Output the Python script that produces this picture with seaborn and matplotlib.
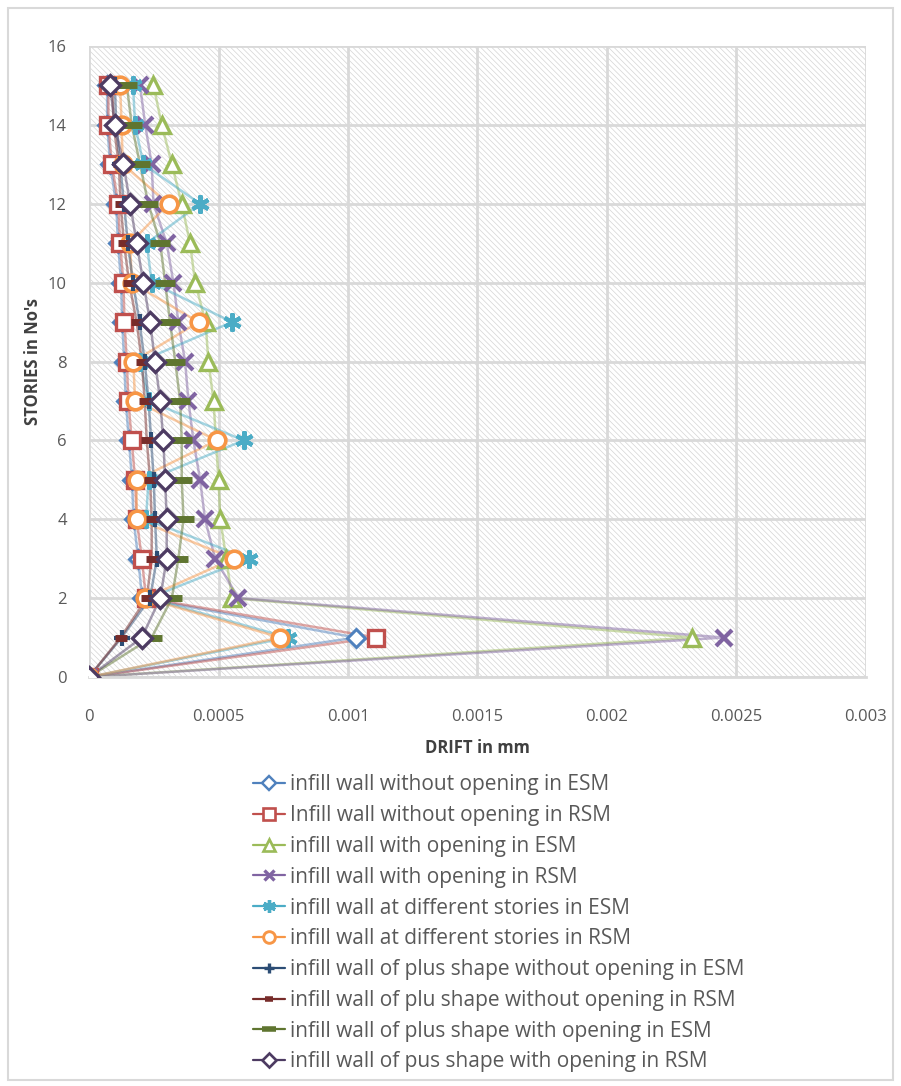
import numpy as np
import pandas as pd
import matplotlib
matplotlib.use("Agg")
import matplotlib.pyplot as plt
from matplotlib.patches import Rectangle
from matplotlib.lines import Line2D
from matplotlib.ticker import FuncFormatter, MultipleLocator
import seaborn as sns

# Storey numbers (ground = 0, roof = 15)
stories = list(range(0, 16))

# Drift values per storey, from storey 0 up to storey 15
wall_no_open_esm = [0, 0.00103, 0.000205, 0.00019, 0.000172, 0.000166, 0.000154, 0.000142, 0.000136, 0.000128, 0.000124, 0.000112, 0.000105, 0.000082, 0.00007, 0.00007]
wall_no_open_rsm = [0, 0.00111, 0.00022, 0.000204, 0.000184, 0.000178, 0.000165, 0.000152, 0.000146, 0.000137, 0.000133, 0.00012, 0.000113, 0.000088, 0.000075, 0.000075]
wall_open_esm = [0, 0.00233, 0.000552, 0.00053, 0.000507, 0.0005, 0.00049, 0.000481, 0.000461, 0.00045, 0.00041, 0.00039, 0.000358, 0.00032, 0.000281, 0.000249]
wall_open_rsm = [0, 0.00245, 0.000577, 0.000487, 0.000448, 0.000429, 0.000403, 0.000384, 0.000371, 0.000345, 0.000326, 0.0003, 0.000249, 0.000242, 0.000217, 0.000197]
diff_story_esm = [0, 0.000768, 0.00023, 0.000616, 0.00022, 0.00023, 0.000597, 0.00023, 0.000197, 0.000552, 0.000242, 0.000223, 0.000429, 0.00021, 0.000178, 0.00017]
diff_story_rsm = [0, 0.000739, 0.000217, 0.000558, 0.000184, 0.000184, 0.000494, 0.000178, 0.000171, 0.000423, 0.000165, 0.000159, 0.000307, 0.00013, 0.000126, 0.00012]
plus_no_open_esm = [0, 0.000126, 0.000236, 0.000262, 0.000255, 0.00025, 0.00024, 0.00023, 0.000215, 0.000195, 0.00017, 0.00015, 0.000135, 0.00012, 0.000105, 0.0001]
plus_no_open_rsm = [0, 0.000122, 0.000223, 0.000242, 0.000242, 0.000236, 0.000223, 0.000215, 0.000204, 0.000184, 0.000155, 0.000135, 0.000122, 0.000115, 0.000095, 0.00009]
plus_open_esm = [0, 0.000242, 0.00032, 0.000345, 0.000365, 0.000358, 0.000358, 0.000352, 0.000333, 0.000313, 0.000294, 0.000275, 0.000229, 0.000197, 0.000165, 0.000146]
plus_open_rsm = [0, 0.000204, 0.000275, 0.0003, 0.0003, 0.000294, 0.000287, 0.000275, 0.000255, 0.000236, 0.00021, 0.000184, 0.000159, 0.000133, 0.0001, 0.000081]

labels = [
    "infill wall without opening in ESM",
    "Infill wall without opening in RSM",
    "infill wall with opening in ESM",
    "infill wall with opening in RSM",
    "infill wall at different stories in ESM",
    "infill wall at different stories in RSM",
    "infill wall of plus shape without opening in ESM",
    "infill wall of plu shape without opening in RSM",
    "infill wall of plus shape with opening in ESM",
    "infill wall of pus shape with opening in RSM",
]
series = [wall_no_open_esm, wall_no_open_rsm, wall_open_esm, wall_open_rsm,
          diff_story_esm, diff_story_rsm, plus_no_open_esm, plus_no_open_rsm,
          plus_open_esm, plus_open_rsm]

colors = ["#4F81BD", "#C0504D", "#9BBB59", "#8064A2", "#4BACC6",
          "#F79646", "#2C4D75", "#772C2A", "#5F7530", "#4D3B62"]
# marker, size (pt), edge width, filled-with-white
styles = [
    ("D", 9.5, 2.2, True),
    ("s", 11.5, 2.4, True),
    ("^", 12, 2.4, True),
    ("x", 11, 3.0, False),
    ((6, 2, 0), 13, 3.0, False),
    ("o", 12, 2.6, True),
    ("+", 11, 3.0, False),
    ("_", 8, 5.0, False),
    ("_", 15, 5.0, False),
    ("D", 10, 2.4, True),
]

sns.set_theme(style="white")
plt.rcParams["font.family"] = ["Open Sans", "DejaVu Sans"]
plt.rcParams["hatch.linewidth"] = 0.5
plt.rcParams["hatch.color"] = "#d4d4d4"

fig = plt.figure(figsize=(9.01, 10.86), dpi=100)
ax = fig.add_axes([89 / 901, 1 - 677 / 1086, 777 / 901, 631 / 1086])
ax.set_facecolor("white")

# fine diagonal hatching behind the plot area
ax.add_patch(Rectangle((0, 0), 1, 1, transform=ax.transAxes, facecolor="white",
                       edgecolor="#d4d4d4", hatch="\\\\\\\\\\\\", linewidth=0, zorder=0.1))

frames = []
for lab, vals in zip(labels, series):
    frames.append(pd.DataFrame({"drift": vals, "story": stories, "series": lab}))
df = pd.concat(frames, ignore_index=True)

for i, lab in enumerate(labels):
    d = df[df["series"] == lab]
    sns.lineplot(data=d, x="drift", y="story", sort=False, estimator=None,
                 color=colors[i], linewidth=1.8, alpha=0.5, ax=ax, zorder=2 + i * 0.01)
for i, lab in enumerate(labels):
    d = df[df["series"] == lab]
    m, ms, mew, filled = styles[i]
    sns.lineplot(data=d, x="drift", y="story", sort=False, estimator=None,
                 color=colors[i], linestyle="", marker=m, markersize=ms,
                 markeredgewidth=mew, markeredgecolor=colors[i],
                 markerfacecolor="white" if filled else colors[i],
                 ax=ax, zorder=3 + i * 0.01)

ax.set_xlim(0, 0.003)
ax.set_ylim(0, 16)
ax.xaxis.set_major_locator(MultipleLocator(0.0005))
ax.yaxis.set_major_locator(MultipleLocator(2))
ax.xaxis.set_major_formatter(FuncFormatter(lambda v, p: "0" if abs(v) < 1e-12 else f"{v:g}"))
ax.yaxis.set_major_formatter(FuncFormatter(lambda v, p: f"{v:g}"))
ax.grid(True, color="#d9d9d9", linewidth=2)
ax.set_axisbelow(True)
for side in ["top", "right", "left"]:
    ax.spines[side].set_visible(False)
ax.spines["bottom"].set_color("#d9d9d9")
ax.spines["bottom"].set_linewidth(2)
ax.tick_params(axis="x", length=0, pad=23, labelsize=12, labelcolor="#595959")
ax.tick_params(axis="y", length=0, pad=16, labelsize=12, labelcolor="#595959")
ax.set_xlabel("DRIFT in mm", fontsize=12, fontweight="bold", color="#404040", labelpad=10)
ax.set_ylabel("STORIES in No's", fontsize=12, fontweight="bold", color="#404040", labelpad=4)

handles = []
for i, lab in enumerate(labels):
    m, ms, mew, filled = styles[i]
    handles.append(Line2D([0], [0], color=colors[i], linewidth=1.6, alpha=1,
                          marker=m, markersize=ms * 0.7, markeredgewidth=mew * 0.8,
                          markeredgecolor=colors[i],
                          markerfacecolor="white" if filled else colors[i]))
fig.legend(handles, labels, loc="upper left", bbox_to_anchor=(245 / 901, 1 - 766 / 1086),
           frameon=False, fontsize=15, labelcolor="#595959", handlelength=1.5,
           handletextpad=0.25, labelspacing=0.47, numpoints=1, borderaxespad=0)

# thin chart border
fig.add_artist(Rectangle((8 / 901, 6 / 1086), 885 / 901, 1072 / 1086,
                         transform=fig.transFigure, fill=False,
                         edgecolor="#d9d9d9", linewidth=1.5))

fig.savefig("out.png", dpi=100)
